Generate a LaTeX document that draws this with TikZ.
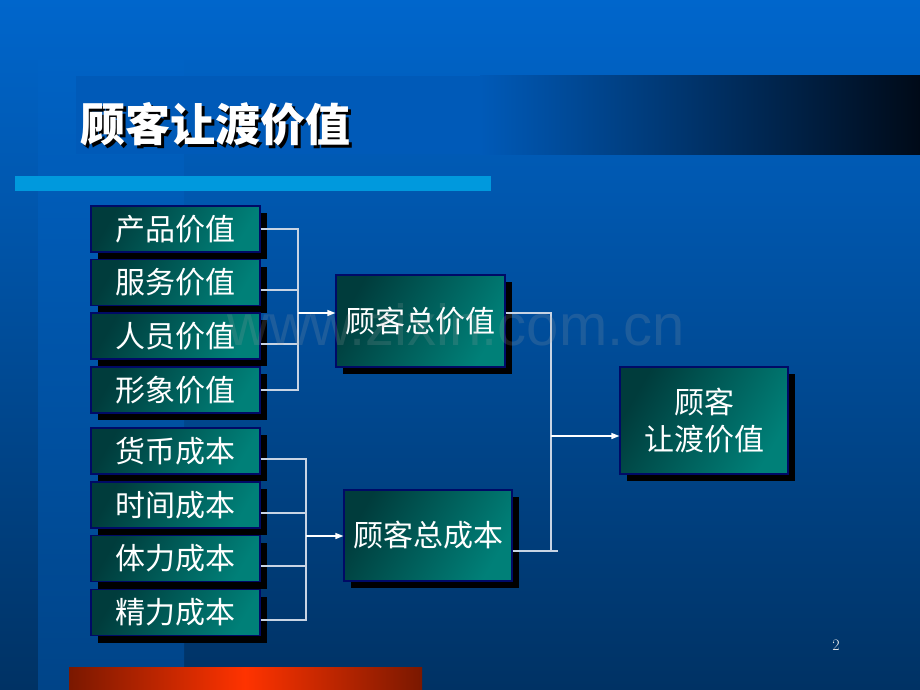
\documentclass[tikz,border=0pt]{standalone}
\usepackage{fontspec}
\newfontfamily\cjk{Noto Sans CJK SC}
\newfontfamily\wmfont{Liberation Sans}
\usetikzlibrary{arrows.meta,shadows}

\definecolor{slidetop}{HTML}{0066CC}
\definecolor{slidebottom}{HTML}{003264}
\definecolor{striptop}{HTML}{0062C4}
\definecolor{stripbottom}{HTML}{004488}
\definecolor{bandblue}{HTML}{005AB8}
\definecolor{banddark}{HTML}{000A18}
\definecolor{rulecyan}{HTML}{0099DD}
\definecolor{tealdark}{HTML}{003C3C}
\definecolor{teallight}{HTML}{008078}
\definecolor{boxline}{HTML}{000A66}
\definecolor{linkgray}{HTML}{C8D4E4}
\definecolor{barred}{HTML}{7A1800}
\definecolor{barorange}{HTML}{FF3300}

\begin{document}
\begin{tikzpicture}[x=1pt,y=-1pt,
    valbox/.style={draw=boxline, line width=1.2pt, top color=tealdark, bottom color=teallight,
      shading angle=60, inner sep=0pt, text=white, align=center,
      font=\cjk\fontsize{30pt}{37pt}\selectfont,
      drop shadow={shadow xshift=7pt, shadow yshift=-7pt, opacity=1, fill=black}},
    small/.style={valbox, minimum width=169pt, minimum height=46pt},
    link/.style={draw=linkgray, line width=1.3pt},
    feed/.style={draw=white, line width=1.3pt, -{Triangle[length=8pt,width=6pt]}}]
    \useasboundingbox (0,0) rectangle (920,690);
    % slide background
    \shade[top color=slidetop, bottom color=slidebottom] (0,0) rectangle (920,690);
    \shade[top color=striptop, bottom color=stripbottom] (38,60) rectangle (184,690);
    \fill[bandblue] (76,76) rectangle (480,154);
    \shade[left color=bandblue, right color=banddark] (480,76) rectangle (920,154);
    \fill[rulecyan] (15,176) rectangle (491,191);
    \shade[left color=barred, right color=barorange] (69,667) rectangle (245,690);
    \shade[left color=barorange, right color=barred] (245,667) rectangle (422,690);

    % title
    \node[text=black, font=\cjk\bfseries\fontsize{45pt}{45pt}\selectfont] (titleshadow) at (218.5,127) {顾客让渡价值};
    \node[text=white, font=\cjk\bfseries\fontsize{45pt}{45pt}\selectfont] (title) at (215.5,124) {顾客让渡价值};

    % value side
    \node[small] (p1) at (175.5,229) {产品价值};
    \node[small] (p2) at (175.5,282.5) {服务价值};
    \node[small] (p3) at (175.5,336) {人员价值};
    \node[small] (p4) at (175.5,390) {形象价值};
    \node[valbox, minimum width=169pt, minimum height=92pt] (tv) at (420.5,321) {顾客总价值};

    % cost side
    \node[small] (c1) at (175.5,451) {货币成本};
    \node[small] (c2) at (175.5,505) {时间成本};
    \node[small] (c3) at (175.5,558.5) {体力成本};
    \node[small] (c4) at (175.5,612.5) {精力成本};
    \node[valbox, minimum width=168pt, minimum height=91pt] (tc) at (428,535.5) {顾客总成本};

    \node[valbox, minimum width=168pt, minimum height=107pt] (dv) at (704,420.5) {顾客\\让渡价值};

    % connectors
    \coordinate (vbus) at (298,313);
    \coordinate (cbus) at (306,536);
    \coordinate (rbus) at (551,436);
    \coordinate (cend) at (558,551);
    \foreach \n/\d in {p1/0,p2/-7.5,p3/-8,p4/0}
        \draw[link] ([yshift=\d pt]\n.east) -| (vbus);
    \foreach \n/\d in {c1/-8,c2/-8,c3/-7.5,c4/-7.5}
        \draw[link] ([yshift=\d pt]\n.east) -| (cbus);
    \draw[feed] (vbus) -- (vbus -| tv.west);
    \draw[feed] (cbus) -- (cbus -| tc.west);
    \draw[link] ([yshift=8pt]tv.east) -| (rbus |- cend);
    \draw[link] ([yshift=-15.5pt]tc.east) -- (cend);
    \draw[feed] (rbus) -- (rbus -| dv.west);

    % watermark and page number
    \node[anchor=base, text=gray!70, opacity=0.18, font=\wmfont\fontsize{58pt}{58pt}\selectfont] (mark) at (456,345) {www.zixin.com.cn};
    \node[text=gray!15, font=\fontsize{16pt}{16pt}\selectfont] (pagenum) at (836,645) {2};
\end{tikzpicture}
\end{document}
